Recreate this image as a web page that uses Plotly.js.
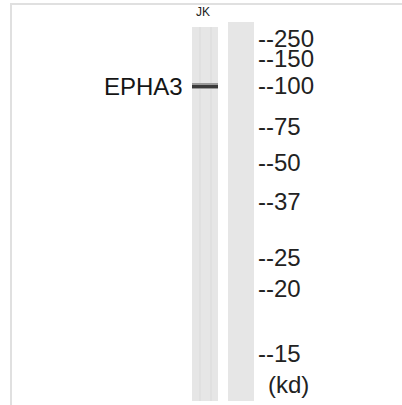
<!DOCTYPE html>
<html>
<head>
<meta charset="utf-8">
<script src="https://cdn.plot.ly/plotly-3.0.1.min.js"></script>
<style>html,body{margin:0;padding:0;background:#fff;}#chart{width:402px;height:405px;}</style>
</head>
<body>
<div id="chart"></div>
<script>
// Western blot data (migration in image units, top = 0)
const laneNames = ['JK', ''];
const laneCenters = [205, 241];
const laneStart = [27, 22];
const laneEnd = [401, 401];
const markerKd = ['250', '150', '100', '75', '50', '37', '25', '20', '15'];
const markerMigration = [38, 58, 85, 126, 162, 201, 257, 288, 353];
const bandTarget = 'EPHA3';
const bandLane = [205];
const bandMigration = [86];

const laneW = 26;
const traces = [];
// lanes
traces.push({
  type: 'bar', x: laneCenters, base: laneStart,
  y: laneEnd.map((e, i) => e - laneStart[i]),
  width: laneW, marker: {color: '#e6e6e6', line: {width: 0}},
  hoverinfo: 'skip', showlegend: false
});
// faint streaks in lane 1
traces.push({
  type: 'bar', x: [laneCenters[0] - 5, laneCenters[0] + 6], base: [laneStart[0], laneStart[0]],
  y: [laneEnd[0] - laneStart[0], laneEnd[0] - laneStart[0]],
  width: 1.2, marker: {color: '#e0e0e0', line: {width: 0}},
  hoverinfo: 'skip', showlegend: false
});
// band halo + core
traces.push({
  type: 'bar', x: bandLane, base: bandMigration.map(v => v - 3), y: [6],
  width: laneW, marker: {color: '#9a9a9a', line: {width: 0}},
  hoverinfo: 'skip', showlegend: false
});
traces.push({
  type: 'bar', x: bandLane, base: bandMigration.map(v => v - 1.5), y: [3],
  width: laneW, marker: {color: '#3a3a3a', line: {width: 0}},
  hoverinfo: 'skip', showlegend: false
});

const annotations = [];
const font = 'Liberation Sans, Arial, sans-serif';
markerKd.forEach((m, i) => {
  annotations.push({x: 256, y: markerMigration[i], text: '--' + m, showarrow: false,
    xanchor: 'left', yanchor: 'middle', font: {family: font, size: 24, color: '#222'}});
});
annotations.push({x: 266, y: 384, text: '(kd)', showarrow: false, xanchor: 'left', yanchor: 'middle',
  font: {family: font, size: 24, color: '#222'}});
annotations.push({x: 185, y: bandMigration[0], text: bandTarget, showarrow: false, xanchor: 'right', yanchor: 'middle',
  font: {family: font, size: 24, color: '#151515'}});
laneNames.forEach((n, i) => {
  if (n) annotations.push({x: laneCenters[i] - 2, y: 12, text: n, showarrow: false, xanchor: 'center', yanchor: 'middle',
    font: {family: font, size: 12, color: '#222'}});
});

const layout = {
  width: 402, height: 405,
  margin: {l: 0, r: 0, t: 0, b: 0},
  paper_bgcolor: '#fff', plot_bgcolor: '#fff',
  barmode: 'overlay', bargap: 0,
  xaxis: {range: [0, 402], visible: false, fixedrange: true},
  yaxis: {range: [405, 0], visible: false, fixedrange: true},
  annotations: annotations,
  shapes: [
    {type: 'line', xref: 'x', yref: 'y', x0: 11, x1: 402, y0: 4, y1: 4, line: {color: '#e0e0e0', width: 2}},
    {type: 'line', xref: 'x', yref: 'y', x0: 11, x1: 11, y0: 3, y1: 405, line: {color: '#e0e0e0', width: 2}}
  ]
};
Plotly.newPlot('chart', traces, layout, {displayModeBar: false, staticPlot: true});
</script>
</body>
</html>
